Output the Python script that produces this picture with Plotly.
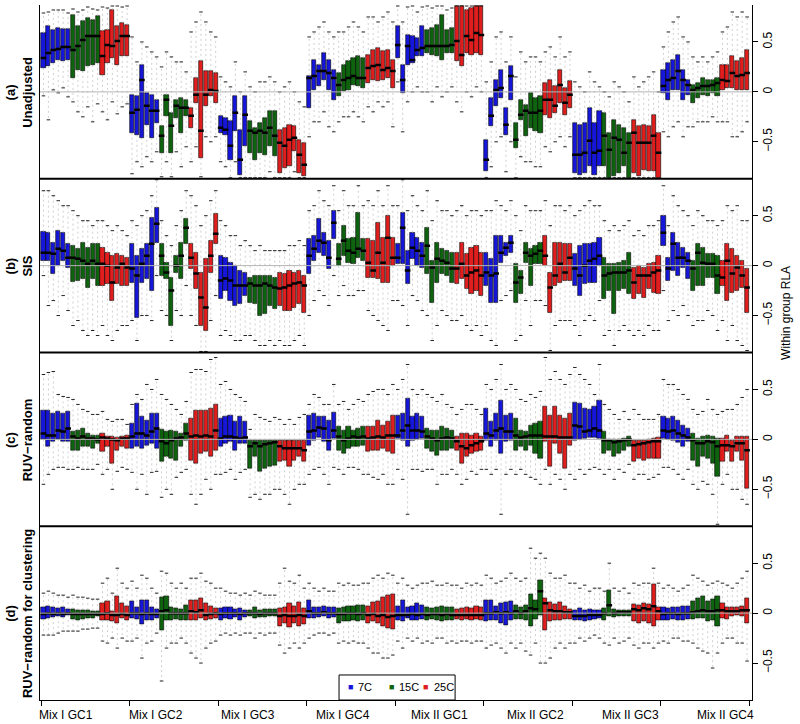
import plotly.graph_objects as go
from plotly.subplots import make_subplots

groups = ["Mix I GC1", "Mix I GC2", "Mix I GC3", "Mix I GC4",
          "Mix II GC1", "Mix II GC2", "Mix II GC3", "Mix II GC4"]
temps = ["7C", "15C", "25C"]
n_rep = 6
panel_titles = ["(a)<br>Unadjusted", "(b)<br>SIS", "(c)<br>RUV\u2212random",
                "(d)<br>RUV\u2212random for clustering"]
y_ticks = [-0.5, 0, 0.5]
y_ticktext = ["\u22120.5", "0", "0.5"]

# ---------------- (a) Unadjusted ----------------
a_q3 = [
 0.59,0.66,0.62,0.64,0.63,0.63, 0.77,0.66,0.71,0.74,0.72,0.76, 0.61,0.62,0.82,0.66,0.69,0.67,
 -0.03,-0.04,0.27,-0.01,-0.03,-0.08, -0.34,-0.03,-0.21,-0.08,-0.06,-0.08, -0.16,0.14,0.31,0.21,0.21,0.19,
 -0.24,-0.26,-0.29,-0.04,-0.38,-0.04, -0.29,-0.36,-0.31,-0.26,-0.19,-0.19, -0.38,-0.36,-0.33,-0.34,-0.48,-0.51,
 0.16,0.32,0.27,0.39,0.32,0.22, 0.19,0.27,0.31,0.34,0.36,0.34, 0.37,0.42,0.44,0.41,0.42,0.32,
 0.66,0.27,0.57,0.56,0.54,0.66, 0.62,0.64,0.67,0.77,0.62,0.64, 0.86,0.86,0.82,0.84,0.86,0.86,
 -0.48,-0.06,0.12,0.22,-0.16,0.26, -0.31,-0.08,-0.13,-0.01,-0.06,-0.04, 0.09,0.12,0.06,0.22,0.04,0.11,
 -0.31,-0.33,-0.31,-0.16,-0.31,-0.19, -0.21,-0.41,-0.28,-0.33,-0.36,-0.41, -0.28,-0.34,-0.33,-0.34,-0.23,-0.41,
 0.22,0.29,0.32,0.37,0.22,0.12, 0.07,0.09,0.14,0.12,0.12,0.14, 0.27,0.27,0.36,0.31,0.34,0.42]
a_med = [
 0.34,0.39,0.42,0.43,0.45,0.45, 0.42,0.46,0.52,0.56,0.56,0.56, 0.36,0.47,0.46,0.51,0.56,0.56,
 -0.21,-0.18,0.12,-0.14,-0.19,-0.19, -0.44,-0.08,-0.34,-0.14,-0.16,-0.16, -0.24,-0.03,-0.39,-0.03,0.02,0.01,
 -0.36,-0.38,-0.54,-0.21,-0.68,-0.23, -0.39,-0.41,-0.39,-0.41,-0.36,-0.44, -0.51,-0.54,-0.48,-0.46,-0.63,-0.73,
 0.14,0.16,0.21,0.21,0.19,0.14, 0.07,0.12,0.14,0.16,0.14,0.14, 0.24,0.26,0.27,0.22,0.24,0.21,
 0.47,0.12,0.46,0.32,0.42,0.44, 0.46,0.46,0.46,0.46,0.46,0.47, 0.51,0.37,0.56,0.52,0.59,0.57,
 -0.68,-0.24,0.02,0.04,-0.33,0.16, -0.48,-0.23,-0.19,-0.21,-0.21,-0.19, -0.08,-0.08,-0.14,0.07,-0.11,-0.03,
 -0.63,-0.63,-0.61,-0.49,-0.61,-0.59, -0.44,-0.58,-0.46,-0.48,-0.61,-0.51, -0.41,-0.51,-0.51,-0.51,-0.44,-0.61,
 0.06,0.12,0.14,0.21,0.12,0.07, 0.02,0.04,0.06,0.06,0.07,0.09, 0.12,0.11,0.19,0.16,0.17,0.19]
a_q1 = [
 0.24,0.26,0.29,0.32,0.31,0.32, 0.14,0.22,0.21,0.26,0.27,0.29, 0.17,0.29,0.34,0.27,0.36,0.36,
 -0.41,-0.43,-0.46,-0.33,-0.46,-0.31, -0.61,-0.24,-0.61,-0.26,-0.41,-0.24, -0.36,-0.11,-0.66,-0.14,-0.04,-0.11,
 -0.41,-0.43,-0.68,-0.39,-0.83,-0.54, -0.61,-0.68,-0.61,-0.63,-0.54,-0.64, -0.81,-0.76,-0.74,-0.59,-0.81,-0.84,
 -0.16,0.02,0.06,0.12,0.02,-0.08, -0.04,0.01,0.02,0.07,0.06,0.04, 0.09,0.12,0.11,0.12,0.14,0.04,
 0.34,-0.01,0.27,0.29,0.36,0.36, 0.39,0.37,0.36,0.32,0.39,0.39, 0.31,0.26,0.39,0.37,0.39,0.37,
 -0.79,-0.34,-0.14,-0.06,-0.43,-0.08, -0.56,-0.28,-0.44,-0.36,-0.39,-0.41, -0.23,-0.26,-0.21,-0.11,-0.23,-0.16,
 -0.81,-0.83,-0.81,-0.74,-0.83,-0.74, -0.74,-0.87,-0.84,-0.81,-0.74,-0.87, -0.81,-0.84,-0.78,-0.79,-0.79,-0.87,
 -0.01,-0.08,0.02,0.02,-0.08,-0.03, -0.11,-0.06,-0.03,-0.04,-0.01,-0.04, 0.02,0.04,0.04,0.02,0.02,0.02]
a_hi = [
 0.79,0.8,0.82,0.82,0.82,0.79, 0.83,0.8,0.82,0.85,0.83,0.82, 0.85,0.84,0.86,0.86,0.85,0.86,
 0.55,0.3,0.5,0.45,0.4,0.35, 0.25,0.4,0.35,0.3,0.3,0.2, 0.6,0.7,0.8,0.7,0.6,0.55,
 0.15,0.1,0.05,0.3,0.0,0.2, 0.05,0.0,0.1,0.1,0.15,0.1, 0.0,0.05,0.1,0.0,-0.1,-0.15,
 0.55,0.6,0.65,0.7,0.6,0.55, 0.6,0.6,0.65,0.7,0.65,0.6, 0.75,0.75,0.7,0.75,0.8,0.7,
 0.86,0.7,0.85,0.86,0.8,0.85, 0.86,0.84,0.86,0.86,0.82,0.84, 0.86,0.86,0.86,0.86,0.86,0.86,
 0.1,0.3,0.55,0.6,0.3,0.55, 0.15,0.4,0.3,0.35,0.35,0.3, 0.4,0.45,0.35,0.55,0.35,0.4,
 0.1,0.05,0.0,0.2,0.1,0.05, 0.0,-0.05,0.1,0.05,0.0,-0.1, 0.15,0.05,0.1,0.15,0.2,0.0,
 0.45,0.6,0.7,0.75,0.55,0.5, 0.35,0.3,0.35,0.3,0.35,0.4, 0.6,0.65,0.8,0.75,0.8,0.75]
a_lo = [
 -0.04,-0.28,0.02,-0.01,0.04,-0.05, -0.1,-0.2,-0.25,-0.15,-0.3,-0.12, -0.2,-0.28,-0.1,-0.22,-0.15,-0.12,
 -0.82,-0.7,-0.75,-0.65,-0.7,-0.6, -0.85,-0.7,-0.85,-0.6,-0.75,-0.55, -0.7,-0.55,-0.85,-0.45,-0.5,-0.45,
 -0.7,-0.75,-0.86,-0.7,-0.86,-0.86, -0.86,-0.86,-0.86,-0.86,-0.8,-0.86, -0.86,-0.86,-0.86,-0.8,-0.86,-0.86,
 -0.45,-0.3,-0.3,-0.2,-0.35,-0.4, -0.3,-0.25,-0.25,-0.2,-0.25,-0.3, -0.15,-0.2,-0.1,-0.15,-0.1,-0.35,
 0.1,-0.4,-0.1,0.0,0.05,0.0, 0.0,-0.1,0.05,-0.05,0.0,0.05, -0.1,-0.2,0.0,-0.05,0.05,0.0,
 -0.86,-0.75,-0.5,-0.45,-0.8,-0.5, -0.86,-0.65,-0.7,-0.7,-0.75,-0.75, -0.55,-0.6,-0.5,-0.45,-0.55,-0.45,
 -0.86,-0.86,-0.86,-0.86,-0.86,-0.86, -0.86,-0.86,-0.86,-0.86,-0.86,-0.86, -0.86,-0.86,-0.86,-0.86,-0.86,-0.86,
 -0.4,-0.45,-0.35,-0.3,-0.45,-0.35, -0.35,-0.3,-0.3,-0.3,-0.25,-0.3, -0.3,-0.3,-0.45,-0.45,-0.4,-0.3]

# ---------------- (b) SIS ----------------
b_q3 = [
 0.34,0.33,0.23,0.35,0.33,0.22, 0.2,0.17,0.23,0.18,0.22,0.22, 0.18,0.13,0.1,0.12,0.1,0.08,
 0.22,0.1,0.17,0.22,0.48,0.58, 0.22,0.03,-0.12,0.1,0.23,0.47, 0.22,0.13,-0.07,0.07,0.25,0.52,
 0.1,0.08,0.03,0.0,-0.05,-0.07, -0.12,-0.1,-0.1,-0.1,-0.1,-0.12, -0.07,-0.08,-0.05,-0.07,-0.05,-0.1,
 0.27,0.3,0.47,0.33,0.25,0.55, 0.22,0.4,0.27,0.28,0.53,0.27, 0.27,0.25,0.43,0.28,0.5,0.28,
 0.22,0.53,0.15,0.33,0.28,0.23, 0.38,0.05,0.23,0.17,0.15,0.13, 0.13,0.23,0.12,0.18,0.2,0.13,
 0.13,0.07,0.3,0.3,0.23,0.3, 0.02,-0.05,0.23,0.17,0.2,0.23, 0.3,-0.07,0.23,0.23,0.22,0.22,
 0.12,0.2,0.22,0.22,0.23,0.28, 0.08,0.02,0.02,0.03,0.05,0.13, -0.02,0.0,-0.02,0.02,0.03,0.1,
 0.5,0.08,0.33,0.23,0.18,0.13, 0.05,0.22,0.18,0.12,0.12,0.1, 0.05,0.22,0.17,0.1,0.05,-0.03]
b_med = [
 0.13,0.13,0.12,0.17,0.15,0.08, 0.08,0.07,0.05,0.02,0.05,0.02, 0.02,0.0,-0.17,-0.02,0.02,-0.02,
 -0.03,-0.1,0.02,0.1,0.22,0.42, 0.1,-0.07,-0.25,0.0,0.1,0.38, 0.08,-0.08,-0.32,-0.42,0.1,0.32,
 -0.15,-0.13,-0.15,-0.2,-0.2,-0.2, -0.18,-0.2,-0.2,-0.18,-0.2,-0.22, -0.23,-0.22,-0.2,-0.18,-0.17,-0.2,
 0.1,0.17,0.25,0.23,0.08,0.43, 0.07,0.25,0.15,0.13,0.17,0.15, 0.03,-0.05,0.13,0.03,0.28,0.08,
 0.08,0.38,-0.05,0.18,0.15,0.1, 0.2,-0.02,0.07,0.05,0.03,-0.03, -0.03,0.02,-0.1,-0.07,-0.05,-0.1,
 -0.07,-0.1,-0.08,0.13,0.18,0.23, -0.17,-0.12,0.13,0.1,0.12,0.15, 0.1,-0.22,-0.1,0.02,-0.07,0.08,
 -0.03,-0.1,0.0,0.05,0.07,0.1, -0.1,-0.08,-0.07,-0.07,-0.07,-0.05, -0.17,-0.1,-0.1,-0.1,-0.07,-0.05,
 0.33,-0.03,0.22,0.08,0.08,0.05, -0.03,0.13,0.03,0.02,0.02,-0.1, -0.12,0.05,-0.08,-0.02,-0.1,-0.22]
b_q1 = [
 0.05,0.05,-0.08,0.0,0.05,-0.02, -0.16,-0.15,-0.13,-0.22,-0.13,-0.2, -0.2,-0.18,-0.35,-0.18,-0.2,-0.2,
 -0.17,-0.52,-0.17,-0.13,-0.25,0.23, -0.1,-0.13,-0.6,-0.07,-0.13,0.22, -0.03,-0.23,-0.6,-0.65,-0.07,0.22,
 -0.33,-0.25,-0.35,-0.4,-0.38,-0.3, -0.37,-0.38,-0.5,-0.48,-0.4,-0.43, -0.4,-0.45,-0.45,-0.42,-0.38,-0.47,
 -0.08,0.05,0.13,0.1,-0.03,0.27, 0.0,0.1,0.03,0.02,0.08,0.05, -0.12,-0.12,-0.13,-0.17,-0.17,0.0,
 0.02,0.02,-0.18,0.07,0.0,-0.02, -0.08,-0.37,-0.17,-0.08,-0.1,-0.17, -0.18,-0.13,-0.23,-0.28,-0.25,-0.3,
 -0.2,-0.37,-0.37,0.03,0.1,0.13, -0.37,-0.28,0.03,-0.2,0.02,0.02, 0.0,-0.47,-0.2,-0.17,-0.15,-0.15,
 -0.2,-0.3,-0.18,-0.17,-0.17,0.0, -0.33,-0.25,-0.48,-0.25,-0.23,-0.28, -0.33,-0.28,-0.32,-0.23,-0.27,-0.28,
 0.2,-0.15,-0.05,-0.1,-0.02,-0.13, -0.25,-0.2,-0.2,-0.12,-0.12,-0.28, -0.2,-0.35,-0.27,-0.25,-0.22,-0.47]
b_hi = [
 0.75,0.75,0.7,0.65,0.6,0.6, 0.55,0.5,0.45,0.45,0.4,0.45, 0.45,0.4,0.35,0.4,0.35,0.3,
 0.45,0.4,0.5,0.55,0.7,0.86, 0.45,0.3,0.2,0.4,0.55,0.75, 0.7,0.6,0.4,0.5,0.65,0.75,
 0.45,0.4,0.3,0.3,0.2,0.25, 0.2,0.15,0.2,0.15,0.15,0.15, 0.15,0.15,0.2,0.2,0.25,0.2,
 0.55,0.6,0.75,0.65,0.6,0.8, 0.55,0.75,0.6,0.6,0.8,0.6, 0.65,0.6,0.75,0.6,0.8,0.6,
 0.6,0.86,0.55,0.7,0.6,0.55, 0.75,0.45,0.65,0.55,0.55,0.5, 0.55,0.6,0.5,0.55,0.55,0.5,
 0.55,0.55,0.65,0.6,0.55,0.65, 0.5,0.35,0.6,0.55,0.55,0.55, 0.65,0.4,0.6,0.6,0.55,0.6,
 0.5,0.55,0.6,0.65,0.6,0.6, 0.45,0.35,0.4,0.35,0.4,0.45, 0.3,0.35,0.3,0.4,0.4,0.45,
 0.8,0.4,0.7,0.6,0.55,0.5, 0.4,0.55,0.5,0.45,0.45,0.4, 0.45,0.6,0.55,0.6,0.45,0.45]
b_lo = [
 -0.1,-0.4,-0.35,-0.5,-0.3,-0.45, -0.6,-0.55,-0.65,-0.7,-0.65,-0.7, -0.6,-0.7,-0.75,-0.65,-0.6,-0.6,
 -0.55,-0.75,-0.5,-0.5,-0.55,-0.1, -0.45,-0.5,-0.75,-0.45,-0.5,-0.2, -0.5,-0.6,-0.86,-0.86,-0.55,-0.3,
 -0.7,-0.65,-0.7,-0.75,-0.75,-0.7, -0.7,-0.75,-0.8,-0.8,-0.75,-0.8, -0.75,-0.8,-0.8,-0.75,-0.7,-0.8,
 -0.5,-0.35,-0.25,-0.3,-0.4,-0.1, -0.3,-0.2,-0.3,-0.3,-0.25,-0.25, -0.45,-0.5,-0.55,-0.6,-0.65,-0.35,
 -0.35,-0.4,-0.6,-0.3,-0.35,-0.45, -0.5,-0.75,-0.6,-0.45,-0.5,-0.55, -0.55,-0.5,-0.6,-0.65,-0.6,-0.7,
 -0.6,-0.75,-0.8,-0.35,-0.3,-0.25, -0.75,-0.7,-0.35,-0.6,-0.35,-0.35, -0.4,-0.85,-0.6,-0.55,-0.55,-0.55,
 -0.6,-0.7,-0.55,-0.5,-0.55,-0.35, -0.7,-0.65,-0.8,-0.65,-0.6,-0.65, -0.7,-0.65,-0.7,-0.6,-0.65,-0.65,
 -0.25,-0.55,-0.45,-0.5,-0.4,-0.5, -0.6,-0.55,-0.55,-0.45,-0.5,-0.65, -0.55,-0.75,-0.6,-0.75,-0.8,-0.85]

# ---------------- (c) RUV-random ----------------
c_q3 = [
 0.29,0.29,0.26,0.28,0.26,0.28, 0.08,0.09,0.11,0.06,0.04,0.04, 0.06,0.03,0.03,0.02,0.03,0.04,
 0.16,0.36,0.23,0.19,0.26,0.26, 0.1,0.08,0.09,0.08,0.06,0.16, 0.21,0.29,0.29,0.29,0.31,0.35,
 0.21,0.23,0.24,0.18,0.23,0.18, -0.01,-0.01,-0.01,-0.01,-0.01,-0.01, -0.01,-0.01,-0.01,-0.01,-0.01,-0.01,
 0.24,0.26,0.23,0.23,0.19,0.27, 0.13,0.09,0.13,0.09,0.11,0.13, 0.13,0.13,0.19,0.14,0.18,0.24,
 0.24,0.26,0.41,0.23,0.26,0.23, 0.11,0.09,0.09,0.13,0.11,0.09, 0.03,0.06,0.06,0.04,0.06,0.03,
 0.31,0.18,0.26,0.39,0.24,0.26, 0.21,0.09,0.08,0.14,0.16,0.18, 0.33,0.24,0.33,0.24,0.21,0.26,
 0.37,0.36,0.31,0.3,0.33,0.39, 0.08,0.0,0.0,0.0,0.01,0.03, -0.01,-0.01,-0.01,0.0,0.01,0.02,
 0.23,0.21,0.23,0.19,0.14,0.11, 0.06,0.01,0.03,0.04,0.03,0.01, 0.01,0.04,-0.01,0.03,0.03,0.03]
c_med = [
 0.06,0.04,0.04,0.09,0.08,0.11, 0.03,0.01,0.03,0.01,0.01,0.0, 0.02,0.01,0.0,-0.01,0.01,0.01,
 0.03,0.06,0.06,0.04,0.08,0.11, -0.02,-0.04,-0.01,0.01,0.02,0.06, 0.03,0.04,0.03,0.04,0.03,0.09,
 0.01,0.03,0.03,0.02,0.01,0.02, -0.07,-0.04,-0.07,-0.05,-0.04,-0.03, -0.07,-0.09,-0.09,-0.09,-0.09,-0.11,
 0.08,0.09,0.12,0.11,-0.01,0.09, 0.03,-0.01,0.01,0.03,0.02,0.03, 0.01,0.02,0.03,0.02,0.04,0.04,
 0.04,0.09,0.14,0.09,0.09,0.08, 0.03,0.01,-0.01,0.01,0.02,0.01, -0.02,-0.07,-0.09,-0.06,-0.04,-0.02,
 0.06,0.04,0.09,0.11,0.08,0.08, 0.04,0.02,0.03,0.04,0.04,0.04, 0.03,0.03,0.03,0.02,0.02,0.02,
 0.14,0.13,0.08,0.09,0.11,0.09, -0.01,-0.01,-0.03,-0.02,-0.01,0.0, -0.06,-0.05,-0.04,-0.03,-0.02,-0.02,
 0.09,0.08,0.09,0.06,0.04,0.02, -0.01,-0.04,-0.04,-0.02,-0.03,-0.07, -0.06,-0.06,-0.07,-0.04,-0.04,-0.11]
c_q1 = [
 0.0,-0.07,-0.02,0.0,-0.02,-0.02, -0.11,-0.11,-0.07,-0.07,-0.09,-0.04, -0.12,-0.07,-0.24,-0.11,-0.07,-0.09,
 -0.09,-0.07,-0.09,-0.06,-0.04,-0.09, -0.22,-0.17,-0.19,-0.21,-0.07,-0.01, -0.21,-0.24,-0.14,-0.12,-0.17,-0.11,
 -0.07,-0.04,-0.02,-0.11,-0.04,-0.04, -0.29,-0.17,-0.32,-0.29,-0.27,-0.26, -0.22,-0.21,-0.27,-0.21,-0.17,-0.22,
 -0.06,-0.01,0.02,-0.02,-0.11,0.01, -0.11,-0.14,-0.09,-0.07,-0.07,-0.06, -0.12,-0.11,-0.11,-0.09,-0.12,-0.14,
 0.01,-0.01,-0.07,-0.01,0.0,0.01, -0.09,-0.12,-0.16,-0.11,-0.11,-0.09, -0.11,-0.24,-0.17,-0.14,-0.12,-0.11,
 -0.01,-0.07,-0.01,-0.14,-0.02,-0.01, -0.11,-0.07,-0.11,-0.06,-0.14,-0.19, -0.02,-0.27,-0.04,-0.14,-0.29,-0.06,
 -0.01,0.0,0.01,0.02,0.02,0.01, -0.14,-0.11,-0.17,-0.14,-0.11,-0.07, -0.22,-0.19,-0.21,-0.19,-0.19,-0.19,
 0.01,0.0,-0.01,-0.03,-0.07,-0.02, -0.21,-0.27,-0.17,-0.19,-0.24,-0.37, -0.22,-0.12,-0.22,-0.12,-0.21,-0.49]
c_hi = [
 0.65,0.67,0.68,0.45,0.43,0.42, 0.4,0.35,0.3,0.28,0.25,0.25, 0.28,0.2,0.18,0.2,0.2,0.15,
 0.35,0.45,0.4,0.55,0.5,0.6, 0.45,0.4,0.35,0.3,0.25,0.38, 0.67,0.7,0.7,0.68,0.8,0.82,
 0.55,0.58,0.5,0.45,0.42,0.38, 0.1,0.25,0.22,0.2,0.18,0.22, 0.2,0.15,0.2,0.15,0.22,0.25,
 0.35,0.45,0.42,0.35,0.35,0.55, 0.35,0.38,0.3,0.35,0.4,0.38, 0.45,0.48,0.5,0.5,0.45,0.55,
 0.5,0.6,0.75,0.5,0.45,0.5, 0.45,0.42,0.38,0.45,0.35,0.32, 0.25,0.3,0.35,0.35,0.3,0.25,
 0.55,0.5,0.6,0.75,0.5,0.55, 0.5,0.4,0.38,0.45,0.42,0.48, 0.82,0.6,0.68,0.6,0.55,0.65,
 0.72,0.65,0.6,0.55,0.45,0.75, 0.35,0.3,0.25,0.2,0.28,0.2, 0.3,0.25,0.2,0.2,0.2,0.25,
 0.6,0.55,0.55,0.5,0.45,0.4, 0.3,0.25,0.28,0.4,0.3,0.25, 0.28,0.3,0.3,0.35,0.42,0.5]
c_lo = [
 -0.45,-0.35,-0.3,-0.28,-0.28,-0.3, -0.3,-0.28,-0.3,-0.3,-0.3,-0.25, -0.35,-0.3,-0.5,-0.32,-0.28,-0.3,
 -0.33,-0.5,-0.35,-0.55,-0.33,-0.32, -0.58,-0.5,-0.55,-0.38,-0.33,-0.3, -0.55,-0.65,-0.55,-0.4,-0.5,-0.35,
 -0.35,-0.33,-0.3,-0.4,-0.33,-0.3, -0.58,-0.55,-0.6,-0.55,-0.55,-0.5, -0.5,-0.55,-0.65,-0.5,-0.45,-0.45,
 -0.35,-0.3,-0.28,-0.35,-0.45,-0.28, -0.3,-0.35,-0.28,-0.28,-0.3,-0.35, -0.35,-0.38,-0.4,-0.35,-0.45,-0.45,
 -0.3,-0.4,-0.75,-0.3,-0.3,-0.32, -0.3,-0.3,-0.45,-0.35,-0.35,-0.3, -0.35,-0.45,-0.4,-0.32,-0.35,-0.3,
 -0.3,-0.35,-0.3,-0.75,-0.35,-0.3, -0.35,-0.3,-0.35,-0.38,-0.4,-0.45, -0.3,-0.45,-0.35,-0.4,-0.5,-0.35,
 -0.4,-0.3,-0.35,-0.3,-0.28,-0.3, -0.35,-0.3,-0.4,-0.3,-0.33,-0.25, -0.4,-0.35,-0.35,-0.4,-0.38,-0.35,
 -0.28,-0.28,-0.3,-0.35,-0.4,-0.3, -0.45,-0.5,-0.42,-0.45,-0.55,-0.85, -0.45,-0.35,-0.5,-0.5,-0.6,-0.65]

# ---------------- (d) RUV-random for clustering ----------------
d_q3 = [
 0.06,0.07,0.06,0.05,0.06,0.04, 0.04,0.03,0.03,0.03,0.02,0.02, 0.1,0.12,0.02,0.17,0.1,0.07,
 0.12,0.06,0.13,0.13,0.06,0.04, 0.16,0.17,0.06,0.05,0.04,0.08, 0.13,0.13,0.15,0.1,0.07,0.05,
 0.05,0.06,0.06,0.04,0.05,0.03, 0.03,0.06,0.03,0.04,0.04,0.04, 0.05,0.06,0.1,0.07,0.11,0.05,
 0.13,0.06,0.06,0.07,0.06,0.06, 0.05,0.06,0.07,0.07,0.08,0.08, 0.07,0.11,0.12,0.16,0.18,0.19,
 0.07,0.13,0.06,0.07,0.1,0.08, 0.06,0.05,0.06,0.07,0.06,0.06, 0.04,0.05,0.06,0.05,0.07,0.06,
 0.13,0.13,0.07,0.1,0.11,0.12, 0.08,0.06,0.08,0.19,0.13,0.33, 0.15,0.11,0.09,0.11,0.07,0.04,
 0.03,0.05,0.03,0.04,0.03,0.03, 0.05,0.23,0.04,0.03,0.03,0.03, 0.09,0.08,0.1,0.09,0.29,0.06,
 0.06,0.05,0.06,0.06,0.07,0.07, 0.12,0.15,0.17,0.12,0.14,0.17, 0.1,0.06,0.06,0.06,0.07,0.15]
d_med = [
 -0.01,0.0,-0.01,0.0,-0.01,0.0, -0.01,-0.01,-0.01,-0.01,-0.01,-0.01, -0.01,0.0,-0.02,-0.02,-0.01,-0.02,
 0.0,0.0,-0.01,0.0,-0.01,-0.01, 0.02,0.03,0.0,0.0,0.0,0.0, 0.02,0.01,0.03,-0.02,-0.01,0.0,
 -0.01,0.0,0.0,0.0,-0.01,0.0, 0.0,0.0,-0.01,0.0,0.0,0.0, -0.03,-0.02,-0.03,-0.03,-0.02,-0.03,
 0.02,0.0,0.0,0.01,0.0,0.0, -0.01,-0.01,0.0,0.0,-0.01,0.0, -0.02,-0.01,-0.03,-0.02,-0.04,-0.03,
 -0.02,-0.02,-0.02,-0.01,-0.02,-0.01, -0.02,-0.01,-0.01,-0.02,-0.01,-0.02, -0.02,-0.02,-0.02,-0.02,-0.02,-0.02,
 0.0,0.0,0.01,0.0,0.01,0.0, 0.02,0.0,0.02,0.05,0.04,0.22, 0.1,0.03,0.02,0.02,0.01,0.01,
 -0.03,-0.03,-0.03,-0.02,-0.02,-0.02, 0.0,0.08,0.0,0.01,0.01,0.01, 0.04,0.03,0.05,0.04,0.07,0.02,
 -0.01,0.0,0.0,-0.01,0.0,0.0, 0.01,0.02,0.03,0.02,0.02,0.03, 0.03,0.02,0.02,0.02,0.03,0.03]
d_q1 = [
 -0.06,-0.05,-0.04,-0.03,-0.04,-0.02, -0.06,-0.07,-0.06,-0.05,-0.05,-0.03, -0.07,-0.07,-0.08,-0.1,-0.05,-0.07,
 -0.05,-0.06,-0.11,-0.07,-0.07,-0.05, -0.17,-0.07,-0.07,-0.06,-0.07,-0.07, -0.07,-0.07,-0.05,-0.07,-0.06,-0.05,
 -0.07,-0.05,-0.06,-0.04,-0.07,-0.04, -0.03,-0.05,-0.04,-0.04,-0.03,-0.03, -0.13,-0.1,-0.14,-0.1,-0.13,-0.11,
 -0.05,-0.05,-0.04,-0.03,-0.05,-0.04, -0.1,-0.08,-0.08,-0.07,-0.08,-0.07, -0.1,-0.08,-0.1,-0.13,-0.15,-0.16,
 -0.07,-0.08,-0.05,-0.07,-0.07,-0.06, -0.07,-0.06,-0.07,-0.08,-0.07,-0.07, -0.06,-0.07,-0.06,-0.07,-0.06,-0.07,
 -0.08,-0.07,-0.07,-0.1,-0.12,-0.07, -0.06,-0.06,-0.07,-0.13,-0.06,-0.02, -0.17,-0.08,-0.07,-0.07,-0.06,-0.06,
 -0.07,-0.07,-0.08,-0.07,-0.06,-0.05, -0.07,-0.03,-0.04,-0.03,-0.03,-0.03, -0.08,-0.1,-0.08,-0.1,-0.13,-0.07,
 -0.07,-0.07,-0.06,-0.07,-0.07,-0.06, -0.06,-0.05,-0.05,-0.08,-0.07,-0.13, -0.05,-0.06,-0.03,-0.02,-0.03,-0.1]
d_hi = [
 0.2,0.22,0.2,0.18,0.18,0.16, 0.18,0.16,0.16,0.15,0.14,0.14, 0.3,0.35,0.2,0.45,0.3,0.25,
 0.32,0.25,0.38,0.35,0.25,0.2, 0.42,0.4,0.3,0.25,0.3,0.25, 0.35,0.35,0.4,0.32,0.3,0.25,
 0.25,0.22,0.2,0.2,0.18,0.2, 0.18,0.22,0.2,0.18,0.18,0.18, 0.3,0.45,0.32,0.3,0.38,0.25,
 0.3,0.25,0.22,0.25,0.22,0.22, 0.3,0.28,0.3,0.28,0.28,0.3, 0.3,0.35,0.38,0.35,0.4,0.38,
 0.3,0.35,0.28,0.25,0.28,0.3, 0.3,0.32,0.28,0.28,0.3,0.28, 0.28,0.25,0.3,0.28,0.3,0.28,
 0.38,0.35,0.3,0.32,0.35,0.4, 0.35,0.32,0.35,0.65,0.55,0.6, 0.55,0.4,0.35,0.35,0.38,0.3,
 0.3,0.25,0.28,0.22,0.25,0.25, 0.22,0.5,0.25,0.22,0.25,0.2, 0.3,0.28,0.3,0.3,0.45,0.3,
 0.25,0.28,0.25,0.22,0.25,0.28, 0.38,0.35,0.32,0.28,0.3,0.32, 0.3,0.28,0.25,0.3,0.35,0.42]
d_lo = [
 -0.22,-0.22,-0.22,-0.2,-0.18,-0.18, -0.18,-0.18,-0.16,-0.16,-0.15,-0.15, -0.28,-0.3,-0.25,-0.35,-0.25,-0.28,
 -0.28,-0.25,-0.45,-0.3,-0.28,-0.2, -0.68,-0.35,-0.3,-0.3,-0.25,-0.3, -0.4,-0.45,-0.5,-0.35,-0.3,-0.28,
 -0.22,-0.2,-0.22,-0.2,-0.22,-0.2, -0.2,-0.25,-0.2,-0.22,-0.2,-0.2, -0.32,-0.4,-0.35,-0.3,-0.35,-0.3,
 -0.25,-0.22,-0.2,-0.2,-0.22,-0.2, -0.3,-0.28,-0.3,-0.28,-0.3,-0.3, -0.35,-0.4,-0.4,-0.45,-0.45,-0.42,
 -0.28,-0.35,-0.25,-0.28,-0.25,-0.3, -0.28,-0.3,-0.25,-0.25,-0.3,-0.28, -0.3,-0.28,-0.28,-0.3,-0.28,-0.28,
 -0.35,-0.32,-0.3,-0.35,-0.4,-0.3, -0.35,-0.3,-0.38,-0.42,-0.3,-0.5, -0.5,-0.45,-0.35,-0.3,-0.35,-0.3,
 -0.3,-0.25,-0.28,-0.25,-0.22,-0.25, -0.3,-0.32,-0.25,-0.3,-0.28,-0.25, -0.32,-0.35,-0.3,-0.3,-0.35,-0.3,
 -0.28,-0.3,-0.25,-0.25,-0.28,-0.28, -0.3,-0.35,-0.38,-0.4,-0.55,-0.4, -0.3,-0.25,-0.25,-0.3,-0.3,-0.48]

panels = [
    (a_q1, a_med, a_q3, a_lo, a_hi),
    (b_q1, b_med, b_q3, b_lo, b_hi),
    (c_q1, c_med, c_q3, c_lo, c_hi),
    (d_q1, d_med, d_q3, d_lo, d_hi),
]

temp_colors = {"7C": "#1616DA", "15C": "#0E640E", "25C": "#E01E1E"}
box_temp = [t for g in groups for t in temps for _ in range(n_rep)]
xs = list(range(len(box_temp)))
colors = [temp_colors[t] for t in box_temp]

FONT = "Liberation Sans, Arial, Helvetica, sans-serif"

fig = make_subplots(rows=4, cols=1, shared_xaxes=True, vertical_spacing=0)

for r, (q1, med, q3, lo, hi) in enumerate(panels, start=1):
    wx, wy = [], []
    for i in xs:
        wx += [i, i, None, i, i, None]
        wy += [q3[i], hi[i], None, q1[i], lo[i], None]
    fig.add_trace(go.Scatter(x=wx, y=wy, mode="lines",
                             line=dict(color="#bcbcbc", width=0.7, dash="2px,3px"),
                             hoverinfo="skip", showlegend=False), row=r, col=1)
    fig.add_trace(go.Bar(x=xs, y=[b - a for a, b in zip(q1, q3)], base=q1, width=0.84,
                         marker=dict(color=colors, line=dict(color="black", width=0.6)),
                         hoverinfo="skip", showlegend=False), row=r, col=1)
    fig.add_trace(go.Scatter(x=xs + xs, y=lo + hi, mode="markers",
                             marker=dict(symbol="line-ew", size=2.5,
                                         line=dict(color="#222222", width=1)),
                             hoverinfo="skip", showlegend=False), row=r, col=1)
    fig.add_trace(go.Scatter(x=xs, y=med, mode="markers",
                             marker=dict(symbol="line-ew", size=4,
                                         line=dict(color="black", width=2.5)),
                             hoverinfo="skip", showlegend=False), row=r, col=1)
    fig.add_shape(type="line", xref="paper", x0=0, x1=1, yref=f"y{'' if r == 1 else r}",
                  y0=0, y1=0, line=dict(color="#b4b4b4", width=1), layer="above")

for yp in [0.25, 0.5, 0.75]:
    fig.add_shape(type="line", xref="paper", yref="paper", x0=0, x1=1, y0=yp, y1=yp,
                  line=dict(color="black", width=2.2), layer="above")

n_box = len(xs)
boundaries = [k * len(temps) * n_rep - 0.5 for k in range(len(groups) + 1)]

fig.update_xaxes(range=[-0.71, n_box - 0.0], showgrid=False, zeroline=False,
                 showticklabels=False, ticks="", showline=False)
fig.update_xaxes(row=4, col=1, tickvals=boundaries, ticks="outside", ticklen=5,
                 tickcolor="black", tickwidth=1, showline=True, linecolor="black",
                 linewidth=1.2)
fig.update_yaxes(range=[-0.87, 0.87], side="right", tickvals=y_ticks, ticktext=y_ticktext,
                 tickangle=-90, ticks="outside", ticklen=5, tickcolor="black",
                 showgrid=False, zeroline=False, showline=True, mirror=True,
                 linecolor="black", linewidth=1,
                 tickfont=dict(family=FONT, size=12, color="black"))

annotations = []
label_pos = [4.6, 22.8, 41.6, 60.9, 80.4, 99.9, 119.3, 138.7]
for g, xp in zip(groups, label_pos):
    annotations.append(dict(x=xp, xref="x4", y=0, yref="paper", yanchor="top", yshift=-6,
                            text=g, showarrow=False,
                            font=dict(family=FONT, size=12, color="black")))
for r, t in enumerate(panel_titles):
    yc = 1 - 0.125 - 0.25 * r
    annotations.append(dict(x=-0.0295, xref="paper", y=yc, yref="paper", text=f"<b>{t}</b>",
                            textangle=-90, showarrow=False, xanchor="center",
                            yanchor="middle", font=dict(family=FONT, size=13, color="black")))
annotations.append(dict(x=1.0478, xref="paper", y=0.557, yref="paper", text="Within group RLA",
                        textangle=-90, showarrow=False, xanchor="center", yanchor="middle",
                        font=dict(family=FONT, size=12, color="black")))

fig.add_shape(type="rect", xref="paper", yref="paper", x0=0.42, x1=0.583, y0=0.0, y1=0.036,
              line=dict(color="black", width=1), fillcolor="white", layer="above")
leg_sq = [0.4355, 0.4930, 0.5420]
leg_tx = [0.4440, 0.5015, 0.5505]
for t, xs_, xt in zip(temps, leg_sq, leg_tx):
    annotations.append(dict(x=xs_, xref="paper", y=0.0187, yref="paper", text="\u25a0",
                            showarrow=False, xanchor="center", yanchor="middle",
                            font=dict(family=FONT, size=9, color=temp_colors[t])))
    annotations.append(dict(x=xt, xref="paper", y=0.0187, yref="paper", text=t,
                            showarrow=False, xanchor="left", yanchor="middle",
                            font=dict(family=FONT, size=11, color="black")))

fig.update_layout(
    width=800, height=724, template="none",
    margin=dict(l=40, r=48, t=5, b=24),
    paper_bgcolor="white", plot_bgcolor="white",
    barmode="overlay", bargap=0, showlegend=False,
    annotations=annotations,
    font=dict(family=FONT, size=12, color="black"),
)

fig.write_html("out.html", config={"displayModeBar": False},
               post_script="document.body.style.margin='0';document.body.style.padding='0';")
